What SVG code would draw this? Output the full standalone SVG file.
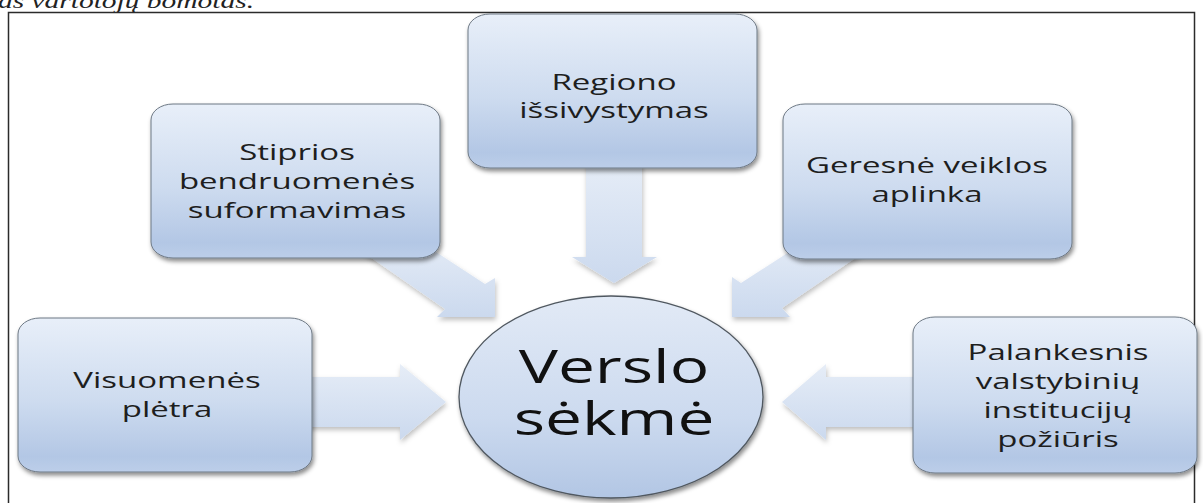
<svg xmlns="http://www.w3.org/2000/svg" width="1203" height="503" viewBox="0 0 1203 503">
<defs>
<linearGradient id="gBox" x1="0" y1="0" x2="0" y2="1">
<stop offset="0" stop-color="#e8eff9"/>
<stop offset="0.55" stop-color="#cddbef"/>
<stop offset="0.9" stop-color="#b3c7e5"/>
<stop offset="1" stop-color="#bccee9"/>
</linearGradient>
<linearGradient id="gEll" x1="0" y1="0" x2="0" y2="1">
<stop offset="0" stop-color="#e2eaf6"/>
<stop offset="0.6" stop-color="#ccdaef"/>
<stop offset="1" stop-color="#b2c6e4"/>
</linearGradient>
<linearGradient id="gArr" x1="0" y1="0" x2="0" y2="1">
<stop offset="0" stop-color="#e6edf7"/>
<stop offset="1" stop-color="#cbd9ee"/>
</linearGradient>
<filter id="sh" x="-10%" y="-10%" width="125%" height="130%">
<feDropShadow dx="1.5" dy="3" stdDeviation="2" flood-color="#000" flood-opacity="0.45"/>
</filter>
<filter id="shA" x="-10%" y="-10%" width="130%" height="130%">
<feDropShadow dx="1" dy="3" stdDeviation="2.5" flood-color="#000" flood-opacity="0.25"/>
</filter>
</defs>
<style>
.box{fill:url(#gBox);stroke:#6d7884;stroke-width:1;filter:url(#sh)}
.ell{fill:url(#gEll);stroke:#505860;stroke-width:1.3;filter:url(#sh)}
.arr{fill:url(#gArr);stroke:none;filter:url(#shA)}
.lbl{font-family:"Open Sans","DejaVu Sans",sans-serif;font-size:22px;fill:#1e1e1e;text-anchor:middle}
.big{font-family:"Open Sans","DejaVu Sans",sans-serif;font-size:46px;fill:#111;text-anchor:middle}
.top{font-family:"Liberation Serif",serif;font-style:italic;font-size:22px;fill:#222}
</style>
<rect width="1203" height="503" fill="#fff"/>
<text class="top" x="-2" y="8" textLength="256" lengthAdjust="spacingAndGlyphs">as vartotojų bomotas.</text>
<rect x="8.5" y="12.5" width="1186" height="500" fill="none" stroke="#2b2b2b" stroke-width="1.5"/>

<g id="connectors">
<polygon class="arr" points="586,160 642,160 642,257 657,257 614,283 572,257 586,257"/>
<polygon class="arr" points="360,250 445,309 437,317 495,317 495,278 485,284 410,235"/>
<polygon class="arr" points="732,317 732,277 741,283 820,232 870,248 782,308 790,317"/>
<polygon class="arr" points="300,377 400,377 400,364 446,402 400,440 400,427 300,427"/>
<polygon class="arr" points="925,377 826,377 826,364 782,402 826,440 826,427 925,427"/>
</g>

<g id="node-regiono">
<rect class="box" x="468" y="14" width="289" height="154" rx="22" ry="16"/>
<text class="lbl" transform="translate(614 0) scale(1.5 1)"><tspan x="0" y="90">Regiono</tspan><tspan x="0" y="118">išsivystymas</tspan></text>
</g>

<g id="node-stiprios">
<rect class="box" x="151" y="104" width="289" height="154" rx="22" ry="16"/>
<text class="lbl" transform="translate(297 0) scale(1.5 1)"><tspan x="0" y="160">Stiprios</tspan><tspan x="0" y="189">bendruomenės</tspan><tspan x="0" y="218">suformavimas</tspan></text>
</g>

<g id="node-geresne">
<rect class="box" x="783" y="104" width="289" height="155" rx="22" ry="16"/>
<text class="lbl" transform="translate(927 0) scale(1.5 1)"><tspan x="0" y="173">Geresnė veiklos</tspan><tspan x="0" y="202">aplinka</tspan></text>
</g>

<g id="node-visuomenes">
<rect class="box" x="18" y="318" width="294" height="154" rx="22" ry="16"/>
<text class="lbl" transform="translate(167 0) scale(1.5 1)"><tspan x="0" y="388">Visuomenės</tspan><tspan x="0" y="417">plėtra</tspan></text>
</g>

<g id="node-palankesnis">
<rect class="box" x="913" y="317" width="284" height="156" rx="22" ry="16"/>
<text class="lbl" transform="translate(1058 0) scale(1.5 1)"><tspan x="0" y="360">Palankesnis</tspan><tspan x="0" y="389">valstybinių</tspan><tspan x="0" y="418">institucijų</tspan><tspan x="0" y="447">požiūris</tspan></text>
</g>

<g id="node-verslo">
<ellipse class="ell" cx="611" cy="397" rx="152" ry="101"/>
<text class="big" transform="translate(614 0) scale(1.43 1)"><tspan x="0" y="383">Verslo</tspan><tspan x="0" y="435">sėkmė</tspan></text>
</g>
</svg>
